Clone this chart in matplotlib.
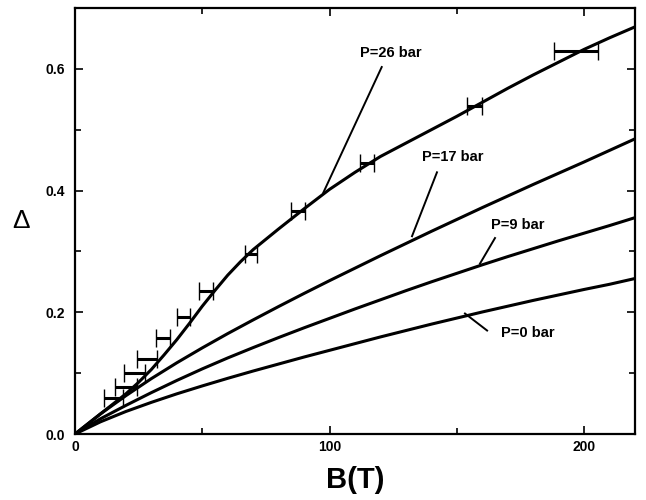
import matplotlib
matplotlib.use("Agg")
import matplotlib.pyplot as plt
from matplotlib.ticker import MultipleLocator

plt.rcParams['font.family'] = ['Liberation Sans', 'DejaVu Sans']

# Curves (B in tesla, Delta)
B_grid = [0, 10, 20, 30, 40, 50, 60, 70, 80, 90, 100, 110, 120, 130, 140, 150, 160,
          170, 180, 190, 200, 210, 220]
delta_p0 = [0, 0.020, 0.037, 0.052, 0.066, 0.079, 0.0915, 0.1035, 0.115, 0.1265, 0.1375,
            0.1485, 0.1595, 0.170, 0.1805, 0.1905, 0.2005, 0.210, 0.2195, 0.2285, 0.2375,
            0.246, 0.2555]
delta_p9 = [0, 0.025, 0.047, 0.068, 0.088, 0.107, 0.125, 0.142, 0.1585, 0.1745, 0.190,
            0.2055, 0.2205, 0.2355, 0.250, 0.264, 0.278, 0.2915, 0.3045, 0.3175, 0.330,
            0.3425, 0.3555]
delta_p17 = [0, 0.033, 0.063, 0.091, 0.117, 0.1415, 0.165, 0.1875, 0.2095, 0.231, 0.252,
             0.2725, 0.293, 0.313, 0.333, 0.3525, 0.372, 0.391, 0.410, 0.4285, 0.447,
             0.466, 0.485]

B_p26 = [0, 10, 20, 25, 30, 35, 40, 45, 50, 55, 60, 65, 70, 80, 90, 100, 110, 120, 130,
         140, 150, 160, 170, 180, 190, 200, 210, 220]
delta_p26 = [0, 0.033, 0.066, 0.085, 0.106, 0.130, 0.155, 0.182, 0.210, 0.236, 0.261, 0.283,
             0.303, 0.337, 0.370, 0.402, 0.430, 0.456, 0.478, 0.500, 0.522, 0.545, 0.568,
             0.590, 0.611, 0.632, 0.651, 0.669]

# Experimental points (P=26 bar) with horizontal error ranges
pts_B = [15.1, 19.7, 23.2, 28.5, 34.8, 42.6, 51.2, 68.9, 87.3, 114.8, 156.8, 196.9]
pts_delta = [0.0595, 0.0766, 0.0995, 0.1225, 0.157, 0.193, 0.235, 0.296, 0.367, 0.446, 0.539, 0.630]
pts_Blo = [11.5, 15.7, 19.3, 24.5, 31.9, 40.0, 48.9, 66.7, 84.9, 112.0, 154.0, 188.0]
pts_Bhi = [19.0, 24.5, 27.6, 32.2, 37.4, 45.3, 54.2, 71.5, 90.2, 117.4, 160.0, 205.5]

labels = ["P=26 bar", "P=17 bar", "P=9 bar", "P=0 bar"]
label_pos = [(124.2, 0.626), (148.5, 0.455), (174.0, 0.344), (178.0, 0.166)]
leader_start = [(120.5, 0.603), (142.2, 0.430), (165.0, 0.322), (161.9, 0.170)]
leader_end = [(97.6, 0.397), (132.4, 0.325), (159.1, 0.280), (153.2, 0.198)]

fig = plt.figure(figsize=(6.46, 5.0), dpi=100)
ax = fig.add_axes([75/646, 66/500, 560/646, 426/500])

lw = 2.2
for d in (delta_p0, delta_p9, delta_p17):
    ax.plot(B_grid, d, color='black', lw=lw, solid_joinstyle='round')
ax.plot(B_p26, delta_p26, color='black', lw=lw, solid_joinstyle='round')

xerr_lo = [b - lo for b, lo in zip(pts_B, pts_Blo)]
xerr_hi = [hi - b for b, hi in zip(pts_B, pts_Bhi)]
ax.errorbar(pts_B, pts_delta, xerr=[xerr_lo, xerr_hi], fmt='none', ecolor='black',
            elinewidth=2.2, capsize=6.5, capthick=1.0)

for txt, (tx, ty), (sx, sy), (ex, ey) in zip(labels, label_pos, leader_start, leader_end):
    ax.text(tx, ty, txt, fontsize=10.5, fontweight='bold', ha='center', va='center')
    ax.plot([sx, ex], [sy, ey], color='black', lw=1.4)

ax.set_xlim(0, 220)
ax.set_ylim(0, 0.70)
ax.set_xticks([0, 100, 200])
ax.set_yticks([0.0, 0.2, 0.4, 0.6])
ax.set_yticklabels(['0.0', '0.2', '0.4', '0.6'])
ax.xaxis.set_minor_locator(MultipleLocator(50))
ax.yaxis.set_minor_locator(MultipleLocator(0.1))
ax.tick_params(which='both', direction='in', top=True, right=True, width=1.2)
ax.tick_params(which='major', length=6, labelsize=10)
ax.tick_params(axis='y', which='major', pad=7)
ax.tick_params(axis='x', which='major', pad=4)
ax.tick_params(which='minor', length=4)
for lab in ax.get_xticklabels() + ax.get_yticklabels():
    lab.set_fontweight('bold')
for s in ax.spines.values():
    s.set_linewidth(1.6)

ax.set_xlabel('B(T)', fontsize=21, fontweight='bold', labelpad=9)
ax.set_ylabel('Δ', fontsize=19, rotation=0, labelpad=18, va='center')

fig.savefig('out.png', dpi=100)
